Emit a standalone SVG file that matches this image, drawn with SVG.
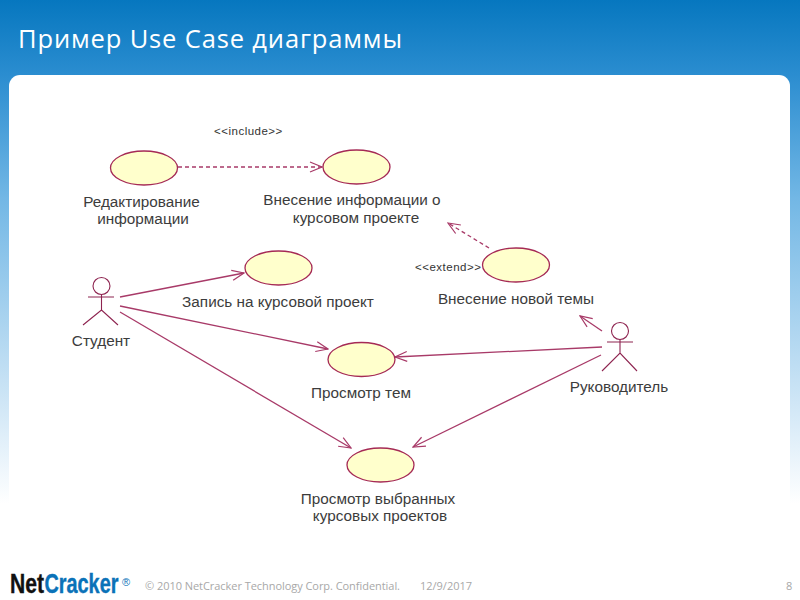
<svg xmlns="http://www.w3.org/2000/svg" width="800" height="600" viewBox="0 0 800 600">
<style>
.uc{fill:#ffffcc;stroke:#a52a55;stroke-width:1.3}
.act{fill:none;stroke:#8e2450;stroke-width:1.1}
.ln{fill:none;stroke:#a83a68;stroke-width:1.3}
.dash{stroke-dasharray:4 3}
.lbl{font-family:"Liberation Sans",Arial,sans-serif;font-size:15.300px;fill:#3c3c3c;text-anchor:middle}
.st{font-family:"Liberation Sans",Arial,sans-serif;font-size:11.500px;fill:#333;letter-spacing:.5px}
.ft{font-family:"Open Sans",sans-serif;font-size:11px;fill:#a8a8a8}
.logo{font-family:"Liberation Sans",sans-serif;font-weight:bold;font-size:27px;stroke-width:.4px}
</style>
<defs>
<linearGradient id="bg" x1="0" y1="0" x2="0" y2="1">
<stop offset="0" stop-color="#0677bf"/>
<stop offset=".125" stop-color="#2b8dd0"/>
<stop offset=".33" stop-color="#72b7e5"/>
<stop offset=".67" stop-color="#cfe6f6"/>
<stop offset=".84" stop-color="#ffffff"/>
</linearGradient>
<marker id="open" viewBox="0 0 14 12" refX="13" refY="6" markerWidth="14" markerHeight="12" markerUnits="userSpaceOnUse" orient="auto">
<path d="M1 1L13 6L1 11" fill="none" stroke="#a83a68" stroke-width="1.2"/>
</marker>
</defs>
<rect width="800" height="600" fill="url(#bg)"/>
<rect x="9" y="75" width="781" height="525" rx="11" fill="#fff"/>
<text x="18" y="48" font-family="'Open Sans',sans-serif" font-size="25.500" fill="#fff" textLength="384" lengthAdjust="spacing">Пример Use Case диаграммы</text>
<g id="connectors">
<path class="ln dash" d="M178 167H322" marker-end="url(#open)"/>
<path class="ln dash" d="M489 248L448 223" marker-end="url(#open)"/>
<path class="ln" d="M120 297L244 273" marker-end="url(#open)"/>
<path class="ln" d="M120 306L328 349" marker-end="url(#open)"/>
<path class="ln" d="M120 312L351 448" marker-end="url(#open)"/>
<path class="ln" d="M602 347L395 357" marker-end="url(#open)"/>
<path class="ln" d="M601 355L413 447" marker-end="url(#open)"/>
<path class="ln" d="M602 331L580 316" marker-end="url(#open)"/>
</g>
<g id="uc-edit"><ellipse class="uc" cx="144" cy="168" rx="33.500" ry="17"/><text class="lbl" x="141.500" y="207">Редактирование</text><text class="lbl" x="143" y="224">информации</text></g>
<g id="uc-add-info"><ellipse class="uc" cx="356.500" cy="167" rx="33.500" ry="17"/><text class="lbl" x="352" y="205">Внесение информации о</text><text class="lbl" x="356" y="223">курсовом проекте</text></g>
<g id="uc-enroll"><ellipse class="uc" cx="278.500" cy="268" rx="33.500" ry="17"/><text class="lbl" x="278" y="307">Запись на курсовой проект</text></g>
<g id="uc-new-topic"><ellipse class="uc" cx="516" cy="265" rx="33.500" ry="17"/><text class="lbl" x="516" y="304">Внесение новой темы</text></g>
<g id="uc-view-topics"><ellipse class="uc" cx="361.500" cy="359.500" rx="33.500" ry="17"/><text class="lbl" x="361" y="398">Просмотр тем</text></g>
<g id="uc-view-selected"><ellipse class="uc" cx="380.500" cy="465" rx="33.500" ry="17"/><text class="lbl" x="378" y="504">Просмотр выбранных</text><text class="lbl" x="380" y="521">курсовых проектов</text></g>
<g id="actor-student"><circle class="act" cx="101.500" cy="286" r="8.500"/><path class="act" d="M101.500 294.500V310M88 297H114M83 325L101.500 310L118 325"/><text class="lbl" x="101" y="346">Студент</text></g>
<g id="actor-supervisor"><circle class="act" cx="620" cy="331" r="8.500"/><path class="act" d="M620 339.500V353M607 342H633M602 371L620 353L637 371"/><text class="lbl" x="619" y="392">Руководитель</text></g>
<text class="st" x="214" y="135">&lt;&lt;include&gt;&gt;</text>
<text class="st" x="415" y="271">&lt;&lt;extend&gt;&gt;</text>
<g id="footer">
<text class="logo" transform="translate(10 593) scale(.78 1)" fill="#111" stroke="#111">Net</text>
<text class="logo" transform="translate(44.500 593) scale(.735 1)" fill="#0a72b8" stroke="#0a72b8">Cracker</text>
<text x="122" y="586" font-family="'Liberation Sans',sans-serif" font-size="11" fill="#0a72b8">®</text>
<text class="ft" x="145" y="590" textLength="255" lengthAdjust="spacing">© 2010 NetCracker Technology Corp. Confidential.</text>
<text class="ft" x="420" y="590" textLength="52" lengthAdjust="spacing">12/9/2017</text>
<text class="ft" x="786" y="590">8</text>
</g>
</svg>
